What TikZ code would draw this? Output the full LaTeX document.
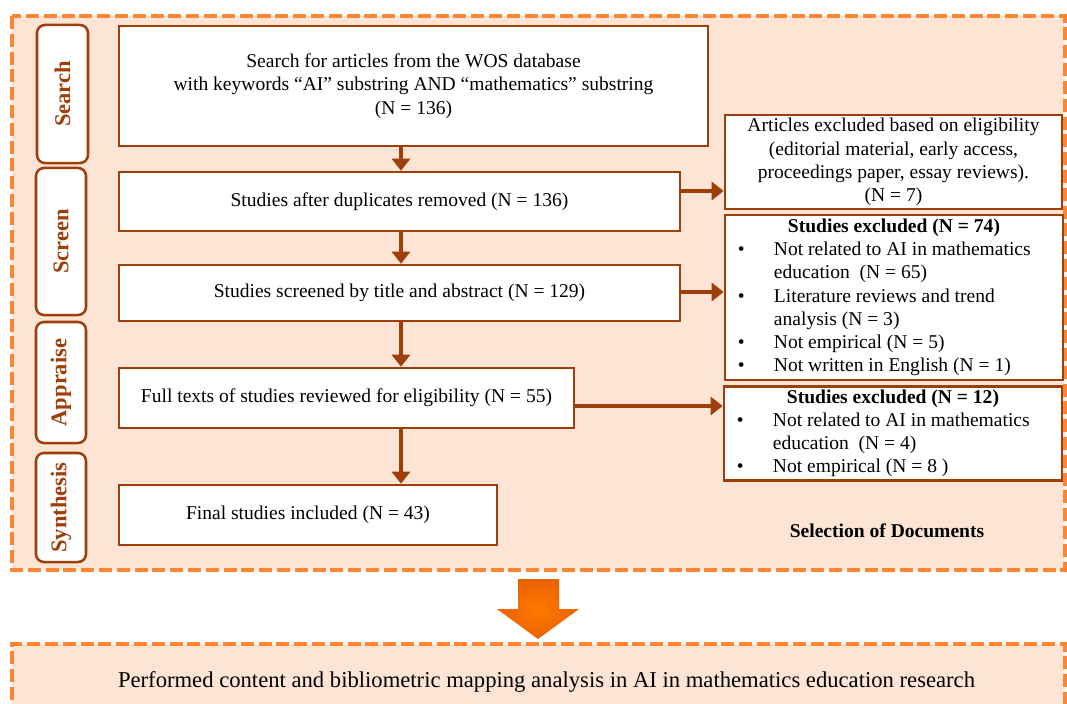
\documentclass[tikz,border=0pt]{standalone}
\usepackage{fontspec}
\setmainfont{Liberation Serif}
\usetikzlibrary{arrows.meta}
\definecolor{brownline}{HTML}{9E3F0A}
\definecolor{peach}{HTML}{FDE4D5}
\definecolor{dashorange}{HTML}{FF8533}
\definecolor{bigorange}{HTML}{FF6A00}
\newcommand{\bodyfont}{\fontsize{13.9pt}{16.5pt}\selectfont}

\begin{document}
\begin{tikzpicture}[x=0.025cm, y=-0.025cm,
    every node/.style={font=\bodyfont},
    box/.style={draw=brownline, line width=1.8pt, fill=white, inner sep=0pt, align=center},
    stage/.style={draw=brownline, line width=1.8pt, fill=white, rounded corners=0.2cm,
      rotate=90, inner sep=0pt, text=brownline, font=\fontsize{16pt}{18pt}\selectfont\bfseries},
    flow/.style={draw=brownline, line width=2.8pt, -{Triangle[length=0.3cm,width=0.45cm]}},
    dashbox/.style={draw=dashorange, line width=2.6pt, dash pattern=on 0.325cm off 0.12cm, fill=peach}]
      \useasboundingbox (0,0) rectangle (1067,704);
      \coordinate (ax) at (401,0);
      \coordinate (h1) at (0,191);
      \coordinate (h2) at (0,292);
      \coordinate (h3) at (0,406);

      \draw[dashbox] (12,16) rectangle (1065,570);

      \node[stage, minimum width=3.45cm, minimum height=1.275cm] (search) at (62.5,94) {Search};
      \node[stage, minimum width=3.675cm, minimum height=1.25cm] (screen) at (61,241.5) {Screen};
      \node[stage, minimum width=3.025cm, minimum height=1.25cm] (appraise) at (61,382.5) {Appraise};
      \node[stage, minimum width=2.725cm, minimum height=1.25cm] (synthesis) at (61,507.5) {Synthesis};

      \node[box, minimum width=14.725cm, minimum height=3cm] (found) at (413.5,86)
      {Search for articles from the WOS database\\
       with keywords ``AI'' substring AND ``mathematics'' substring\\
       (N = 136)};
      \node[box, minimum width=14.025cm, minimum height=1.475cm] (dedup) at (399.5,201.5)
      {Studies after duplicates removed (N = 136)};
      \node[box, minimum width=14.025cm, minimum height=1.4cm] (screened) at (399.5,293)
      {Studies screened by title and abstract (N = 129)};
      \node[box, minimum width=11.375cm, minimum height=1.5cm] (fulltext) at (346.5,398)
      {Full texts of studies reviewed for eligibility (N = 55)};
      \node[box, minimum width=9.45cm, minimum height=1.5cm] (included) at (308,515)
      {Final studies included (N = 43)};

      \node[box, minimum width=8.425cm, minimum height=2.35cm] (excl1) at (893.5,162)
      {Articles excluded based on eligibility\\
       (editorial material, early access,\\
       proceedings paper, essay reviews).\\
       (N = 7)};
      \node[box, minimum width=8.45cm, minimum height=4.125cm] (excl2) at (894,297.5)
      {\begin{tabular}{@{}p{0.9cm}@{}p{6.9cm}@{}}
        \multicolumn{2}{@{}c@{}}{\bfseries Studies excluded (N = 74)}\\
        \textbullet & Not related to AI in mathematics\\
         & education~~(N = 65)\\
        \textbullet & Literature reviews and trend\\
         & analysis (N = 3)\\
        \textbullet & Not empirical (N = 5)\\
        \textbullet & Not written in English (N = 1)
       \end{tabular}};
      \node[box, minimum width=8.45cm, minimum height=2.35cm] (excl3) at (893,433.5)
      {\begin{tabular}{@{}p{0.9cm}@{}p{6.9cm}@{}}
        \multicolumn{2}{@{}c@{}}{\bfseries Studies excluded (N = 12)}\\
        \textbullet & Not related to AI in mathematics\\
         & education~~(N = 4)\\
        \textbullet & Not empirical (N = 8 )
       \end{tabular}};

      \node[font=\bodyfont\bfseries] (selection) at (887,531) {Selection of Documents};

      \draw[flow] (found.south -| ax) -- (dedup.north -| ax);
      \draw[flow] (dedup.south -| ax) -- (screened.north -| ax);
      \draw[flow] (screened.south -| ax) -- (fulltext.north -| ax);
      \draw[flow] (fulltext.south -| ax) -- (included.north -| ax);
      \draw[flow] (dedup.east |- h1) -- (excl1.west |- h1);
      \draw[flow] (screened.east |- h2) -- (excl2.west |- h2);
      \draw[flow] (fulltext.east |- h3) -- (excl3.west |- h3);

      \shade[inner color=bigorange!90!yellow, outer color=bigorange!92!black]
      (518,579) -- (559,579) -- (559,609) -- (579,609)
      -- (538,639) -- (497,609) -- (518,609) -- cycle;

      \node[dashbox, minimum width=26.325cm, minimum height=1.9cm, font=\fontsize{16.1pt}{18pt}\selectfont]
      (analysis) at (538.5,682)
      {\hspace*{0.4cm}Performed content and bibliometric mapping analysis in AI in mathematics education research};
    \end{tikzpicture}
\end{document}
